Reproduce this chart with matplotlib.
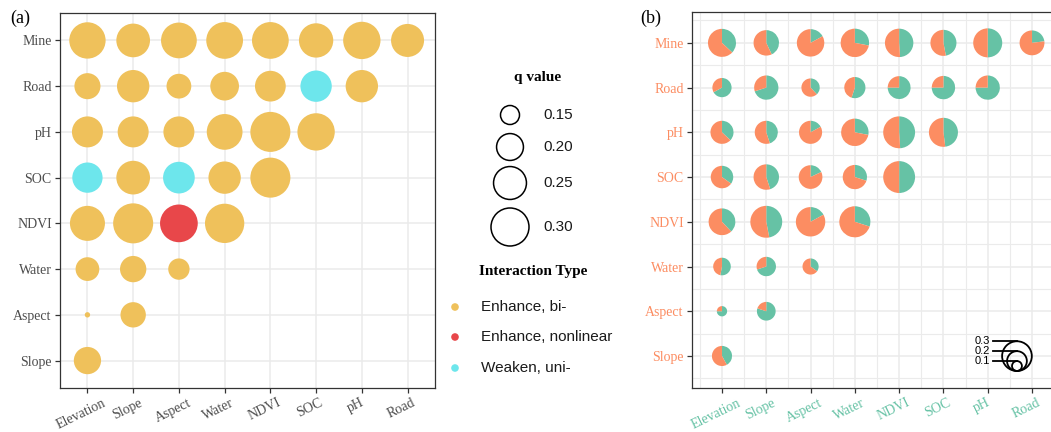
import numpy as np
import matplotlib
matplotlib.use("Agg")
import matplotlib.pyplot as plt
from matplotlib.patches import Wedge, Circle
from matplotlib.transforms import ScaledTranslation, Affine2D

# ---------------- data ----------------
x_vars = ["Elevation", "Slope", "Aspect", "Water", "NDVI", "SOC", "pH", "Road"]
y_vars = ["Slope", "Aspect", "Water", "NDVI", "SOC", "pH", "Road", "Mine"]  # bottom -> top

# q values of the interaction, row variable vs. columns starting at Elevation
q_mine = [0.283, 0.257, 0.277, 0.287, 0.287, 0.263, 0.293, 0.251]
q_road = [0.194, 0.245, 0.185, 0.214, 0.231, 0.236, 0.245]
q_ph = [0.233, 0.233, 0.233, 0.277, 0.322, 0.293]
q_soc = [0.227, 0.257, 0.239, 0.245, 0.322]
q_ndvi = [0.270, 0.322, 0.297, 0.314]
q_water = [0.178, 0.196, 0.163]
q_aspect = [0.104, 0.189]
q_slope = [0.203]

# interaction type
t_mine = ["Enhance, bi-"] * 8
t_road = ["Enhance, bi-"] * 5 + ["Weaken, uni-", "Enhance, bi-"]
t_ph = ["Enhance, bi-"] * 6
t_soc = ["Weaken, uni-", "Enhance, bi-", "Weaken, uni-", "Enhance, bi-", "Enhance, bi-"]
t_ndvi = ["Enhance, bi-", "Enhance, bi-", "Enhance, nonlinear", "Enhance, bi-"]
t_water = ["Enhance, bi-"] * 3
t_aspect = ["Enhance, bi-"] * 2
t_slope = ["Enhance, bi-"]

# share of the column (x) variable in each pie
g_mine = [0.37, 0.43, 0.17, 0.28, 0.49, 0.47, 0.50, 0.23]
g_road = [0.67, 0.70, 0.38, 0.55, 0.75, 0.75, 0.75]
g_ph = [0.37, 0.45, 0.17, 0.28, 0.49, 0.48]
g_soc = [0.35, 0.45, 0.18, 0.30, 0.50]
g_ndvi = [0.38, 0.47, 0.17, 0.30]
g_water = [0.53, 0.70, 0.35]
g_aspect = [0.75, 0.80]
g_slope = [0.42]

q_rows = [q_slope, q_aspect, q_water, q_ndvi, q_soc, q_ph, q_road, q_mine]
t_rows = [t_slope, t_aspect, t_water, t_ndvi, t_soc, t_ph, t_road, t_mine]
g_rows = [g_slope, g_aspect, g_water, g_ndvi, g_soc, g_ph, g_road, g_mine]

legend_q_a = [0.15, 0.20, 0.25, 0.30]
legend_q_b = [0.1, 0.2, 0.3]
type_names = ["Enhance, bi-", "Enhance, nonlinear", "Weaken, uni-"]

# ---------------- styles ----------------
type_colors = {"Enhance, bi-": "#EFC15B", "Enhance, nonlinear": "#E8474A", "Weaken, uni-": "#6DE6EC"}
C_ORANGE = "#FC8D62"
C_GREEN = "#66C2A5"
GRID = "#EBEBEB"
SPINE = "#333333"
SERIF = ["Liberation Serif", "DejaVu Serif"]
SANS = ["Liberation Sans", "DejaVu Sans"]

W, H, DPI = 1051, 432, 100
fig = plt.figure(figsize=(W / DPI, H / DPI), dpi=DPI)


def size_a(q):
    # bubble area (pt^2) for panel a: diameter^2 (px) linear in q
    d2 = 7220.0 * np.asarray(q) - 722.0
    return 0.5184 * np.clip(d2, 1, None)


def radius_b(q):
    # pie radius in inches for panel b (radius proportional to q)
    return 49.5 * q / DPI


# flatten
xs, ys, qs, ts, gs = [], [], [], [], []
for yi, (qr, tr, gr) in enumerate(zip(q_rows, t_rows, g_rows)):
    for xi in range(len(qr)):
        xs.append(xi); ys.append(yi); qs.append(qr[xi]); ts.append(tr[xi]); gs.append(gr[xi])
xs = np.array(xs); ys = np.array(ys); qs = np.array(qs)


def style_axes(ax, xlim, ylim, minor=False):
    ax.set_xlim(*xlim)
    ax.set_ylim(*ylim)
    ax.set_xticks(range(len(x_vars)))
    ax.set_yticks(range(len(y_vars)))
    ax.set_xticklabels(x_vars)
    ax.set_yticklabels(y_vars)
    ax.set_axisbelow(True)
    ax.grid(True, which="major", color=GRID, linewidth=1.1)
    if minor:
        ax.set_xticks(np.arange(-0.5, len(x_vars), 1.0), minor=True)
        ax.set_yticks(np.arange(-0.5, len(y_vars) + 0.5, 1.0), minor=True)
        ax.grid(True, which="minor", color=GRID, linewidth=0.8)
        ax.tick_params(which="minor", length=0)
    for s in ax.spines.values():
        s.set_color(SPINE)
        s.set_linewidth(0.9)
    ax.tick_params(which="major", length=3.5, width=0.9, color=SPINE, pad=2.5, labelsize=10)
    for lbl in ax.get_xticklabels():
        lbl.set_rotation(26)
        lbl.set_ha("center")
        lbl.set_family(SERIF)
        lbl.set_transform(lbl.get_transform() + Affine2D().translate(-6, 0))
    for lbl in ax.get_yticklabels():
        lbl.set_family(SERIF)


# ---------------- panel a ----------------
axa = fig.add_axes([60 / W, 1 - 388 / H, 375 / W, 375 / H])
style_axes(axa, (-0.6, 7.6), (-0.6, 7.6))
axa.tick_params(labelcolor="#4D4D4D")
axa.scatter(xs, ys, s=size_a(qs), c=[type_colors[t] for t in ts], linewidths=0, zorder=3)

# ---------------- panel b ----------------
axb = fig.add_axes([692 / W, 1 - 388 / H, 370 / W, 376 / H])
style_axes(axb, (-0.677, 7.677), (-0.716, 7.69), minor=True)
for lbl in axb.get_yticklabels():
    lbl.set_color(C_ORANGE)
for lbl in axb.get_xticklabels():
    lbl.set_color(C_GREEN)
axb.spines["right"].set_visible(False)

for x, y, q, g in zip(xs, ys, qs, gs):
    tr = fig.dpi_scale_trans + ScaledTranslation(x, y, axb.transData)
    r = radius_b(q)
    w1 = Wedge((0, 0), r, 90 - 360 * g, 90, facecolor=C_GREEN, edgecolor="none", transform=tr, zorder=3)
    w2 = Wedge((0, 0), r, 90, 450 - 360 * g, facecolor=C_ORANGE, edgecolor="none", transform=tr, zorder=3)
    for w in (w1, w2):
        w.set_clip_path(axb.patch)
        axb.add_patch(w)

# scatterpie-style size legend
leg_x, leg_y = 6.66, -0.335
base = fig.dpi_scale_trans + ScaledTranslation(leg_x, leg_y, axb.transData)
for q in legend_q_b:
    r = radius_b(q)
    axb.add_patch(Circle((0, r), r, facecolor="none", edgecolor="black", linewidth=1.3,
                         transform=base, zorder=4, clip_on=False))
    axb.plot([-0.24, 0.0], [2 * r, 2 * r], color="black", linewidth=1.3, transform=base,
             zorder=4, clip_on=False)
    axb.text(-0.265, 2 * r, f"{q:.1f}", transform=base, ha="right", va="center",
             fontsize=8, family=SANS, color="black", zorder=5)

# ---------------- legends for panel a ----------------
lax = fig.add_axes([0, 0, 1, 1])
lax.set_xlim(0, W)
lax.set_ylim(H, 0)
lax.axis("off")
lax.text(538, 78, "q value", ha="center", va="center", fontsize=11, family=SERIF, fontweight="bold")
key_y = [115, 147, 183, 227]
lax.scatter([510] * len(legend_q_a), key_y, s=size_a(legend_q_a), facecolors="none",
            edgecolors="black", linewidths=1.1)
for q, yy in zip(legend_q_a, key_y):
    lax.text(543, yy, f"{q:.2f}", ha="left", va="center", fontsize=11, family=SANS, color="#1A1A1A")
lax.text(533, 272, "Interaction Type", ha="center", va="center", fontsize=11, family=SERIF,
         fontweight="bold")
dot_y = [307, 337, 368]
lax.scatter([455] * 3, dot_y, s=30, c=[type_colors[t] for t in type_names], linewidths=0)
for name, yy in zip(type_names, dot_y):
    lax.text(481, yy, name, ha="left", va="center", fontsize=11, family=SANS, color="#1A1A1A")

# panel tags
fig.text(10 / W, 1 - 18 / H, "(a)", fontsize=13, family=SERIF, va="center", ha="left")
fig.text(640 / W, 1 - 18 / H, "(b)", fontsize=13, family=SERIF, va="center", ha="left")

fig.savefig("out.png", dpi=DPI)
